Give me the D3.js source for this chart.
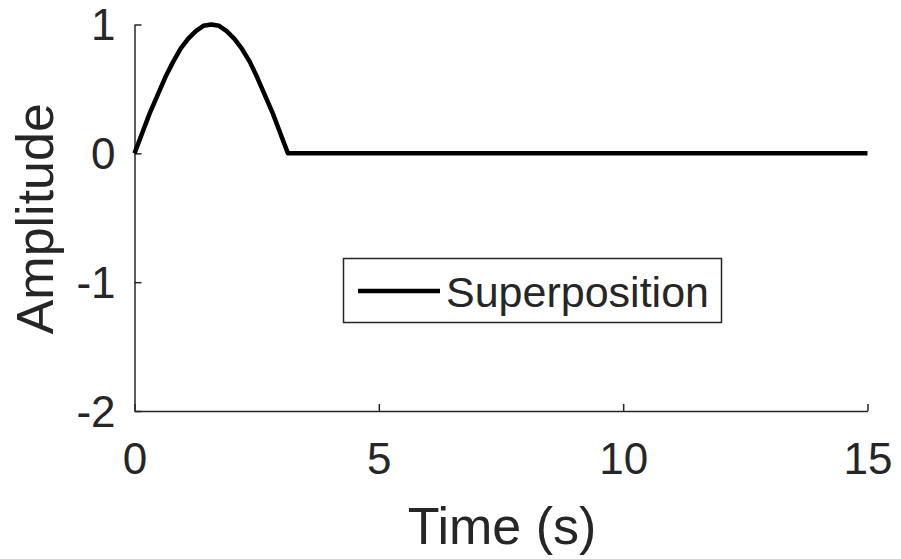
<!DOCTYPE html>
<html><head><meta charset="utf-8">
<script src="https://cdn.jsdelivr.net/npm/d3@7"></script>
<style>body{margin:0;background:#fff;} text{font-family:"Liberation Sans",Arial,Helvetica,sans-serif;fill:#262626;}</style>
</head><body>
<svg id="c" width="901" height="559"></svg>
<script>
// Data
const timeValues = [0, 0.16, 0.31, 0.47, 0.63, 0.79, 0.94, 1.10, 1.26, 1.41, 1.57, 1.73, 1.88, 2.04, 2.20, 2.36, 2.51, 2.67, 2.83, 2.98, 3.14, 15];
const amplitudeValues = [0, 0.16, 0.31, 0.45, 0.59, 0.71, 0.81, 0.89, 0.95, 0.99, 1.00, 0.99, 0.95, 0.89, 0.81, 0.71, 0.59, 0.45, 0.31, 0.16, 0, 0];
const xTicks = [0, 5, 10, 15];
const yTicks = [-2, -1, 0, 1];
const seriesName = "Superposition";
const xLabel = "Time (s)";
const yLabel = "Amplitude";

const svg = d3.select("#c");
const x = d3.scaleLinear().domain([0, 15]).range([134.5, 867.5]);
const y = d3.scaleLinear().domain([-2, 1]).range([411, 24.5]);
const axisColor = "#262626";

const xAxis = d3.axisBottom(x).tickValues(xTicks).tickSizeInner(-7).tickSizeOuter(0).tickPadding(31).tickFormat(d3.format("d"));
const yAxis = d3.axisLeft(y).tickValues(yTicks).tickSizeInner(-7).tickSizeOuter(0).tickPadding(19).tickFormat(d => d < 0 ? "-" + Math.abs(d) : d);

const gx = svg.append("g").attr("transform", `translate(0,${y(-2)})`).call(xAxis);
const gy = svg.append("g").attr("transform", `translate(${x(0)},0)`).call(yAxis);
[gx, gy].forEach(g => {
  g.select(".domain").attr("stroke", axisColor).attr("stroke-width", 1.5);
  g.selectAll(".tick line").attr("stroke", axisColor).attr("stroke-width", 1.5);
  g.selectAll(".tick text").style("font-size", "44px").attr("fill", axisColor);
});
gx.selectAll(".tick text").attr("dy", "0.72em");
gy.selectAll(".tick text").attr("dy", "0.35em");

svg.append("text").attr("x", (x(0) + x(15)) / 2 + 1).attr("y", 544)
  .attr("text-anchor", "middle").style("font-size", "52px").text(xLabel);
svg.append("text").attr("transform", `translate(53,${(y(-2) + y(1)) / 2 + 1}) rotate(-90)`)
  .attr("text-anchor", "middle").style("font-size", "52px").text(yLabel);

const pts = timeValues.map((t, i) => [t, amplitudeValues[i]]);
const line = d3.line().x(d => x(d[0])).y(d => y(d[1]));
svg.append("path").datum(pts).attr("d", line).attr("fill", "none")
  .attr("stroke", "#000").attr("stroke-width", 4.5).attr("stroke-linejoin", "round");

// Legend
const lg = svg.append("g");
lg.append("rect").attr("x", 343.5).attr("y", 258.5).attr("width", 378).attr("height", 64)
  .attr("fill", "#fff").attr("stroke", axisColor).attr("stroke-width", 1.5);
lg.append("line").attr("x1", 358).attr("x2", 440).attr("y1", 291).attr("y2", 291)
  .attr("stroke", "#000").attr("stroke-width", 4.5);
lg.append("text").attr("x", 446).attr("y", 307).style("font-size", "43px").attr("fill", "#000").text(seriesName);
</script>
</body></html>
